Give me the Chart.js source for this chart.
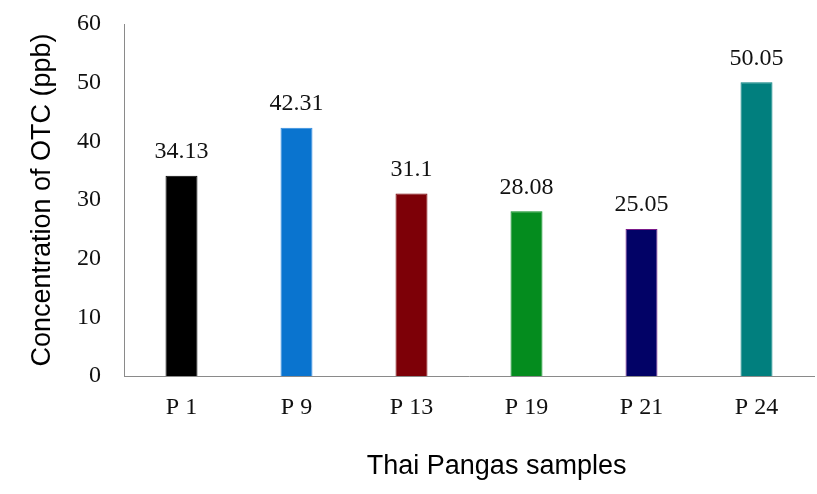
<!DOCTYPE html>
<html>
<head>
<meta charset="utf-8">
<script src="https://cdn.jsdelivr.net/npm/chart.js@4.4.0/dist/chart.umd.min.js"></script>
<style>
  html, body { margin: 0; padding: 0; background: #ffffff; }
  #wrap { width: 817px; height: 494px; position: relative; }
</style>
</head>
<body>
<div id="wrap"><canvas id="c" width="817" height="494"></canvas></div>
<script>
const categories = ["P 1", "P 9", "P 13", "P 19", "P 21", "P 24"];
const values = [34.13, 42.31, 31.1, 28.08, 25.05, 50.05];
const valueLabels = ["34.13", "42.31", "31.1", "28.08", "25.05", "50.05"];
const barColors = ["#000000", "#0a74cf", "#7d0007", "#048c1e", "#020266", "#017f7e"];
const barBorders = ["#000000", "#2f8ae0", "#7d0007", "#048c1e", "#7a1a8a", "#017f7e"];
const yTicks = [0, 10, 20, 30, 40, 50, 60];
const yTitle = "Concentration of OTC (ppb)";
const xTitle = "Thai Pangas samples";

const tickFont = { family: "'Liberation Serif', 'Times New Roman', serif", size: 24 };

const valueLabelPlugin = {
  id: 'valueLabels',
  afterDatasetsDraw(chart) {
    const ctx = chart.ctx;
    const meta = chart.getDatasetMeta(0);
    ctx.save();
    ctx.font = "24px 'Liberation Serif', serif";
    ctx.fillStyle = "#111111";
    ctx.textAlign = "center";
    ctx.textBaseline = "middle";
    meta.data.forEach((bar, i) => {
      ctx.fillText(valueLabels[i], bar.x, bar.y - 24);
    });
    ctx.restore();
  }
};

const xTitlePlugin = {
  id: 'xTitle',
  afterDraw(chart) {
    const ctx = chart.ctx;
    ctx.save();
    ctx.font = "27px 'Liberation Sans', Arial, sans-serif";
    ctx.fillStyle = "#000000";
    ctx.textAlign = "center";
    ctx.textBaseline = "middle";
    ctx.fillText(xTitle, chart.chartArea.left + (chart.chartArea.right - chart.chartArea.left) * 0.54, 467);
    ctx.restore();
  }
};

new Chart(document.getElementById('c'), {
  type: 'bar',
  data: {
    labels: categories,
    datasets: [{
      data: values,
      backgroundColor: barColors,
      borderColor: barBorders,
      borderWidth: 1,
      barPercentage: 0.278,
      categoryPercentage: 1.0
    }]
  },
  options: {
    responsive: false,
    animation: false,
    devicePixelRatio: 1,
    layout: { padding: { top: 24, right: 3, left: 0, bottom: 0 } },
    plugins: {
      legend: { display: false },
      tooltip: { enabled: false }
    },
    scales: {
      x: {
        grid: { display: false, drawTicks: false },
        border: { display: true, color: "#8a8a8a", width: 1 },
        ticks: { color: "#111111", font: tickFont, padding: 17 },
        afterFit(scale) { scale.height = 118; scale.paddingLeft = 0; scale.paddingRight = 0; }
      },
      y: {
        min: 0,
        max: 60,
        afterBuildTicks(scale) { scale.ticks = yTicks.map(v => ({ value: v })); },
        grid: { display: false, drawOnChartArea: false, drawTicks: true, tickLength: 7, color: "#8a8a8a" },
        border: { display: true, color: "#8a8a8a", width: 1 },
        ticks: { color: "#111111", font: tickFont, padding: 16 },
        title: {
          display: true,
          text: yTitle,
          color: "#000000",
          font: { family: "'Liberation Sans', Arial, sans-serif", size: 27 },
          padding: { top: 26, bottom: 0 }
        },
        afterFit(scale) { scale.width = 124; scale.paddingTop = 0; scale.paddingBottom = 0; }
      }
    }
  },
  plugins: [valueLabelPlugin, xTitlePlugin]
});
</script>
</body>
</html>
